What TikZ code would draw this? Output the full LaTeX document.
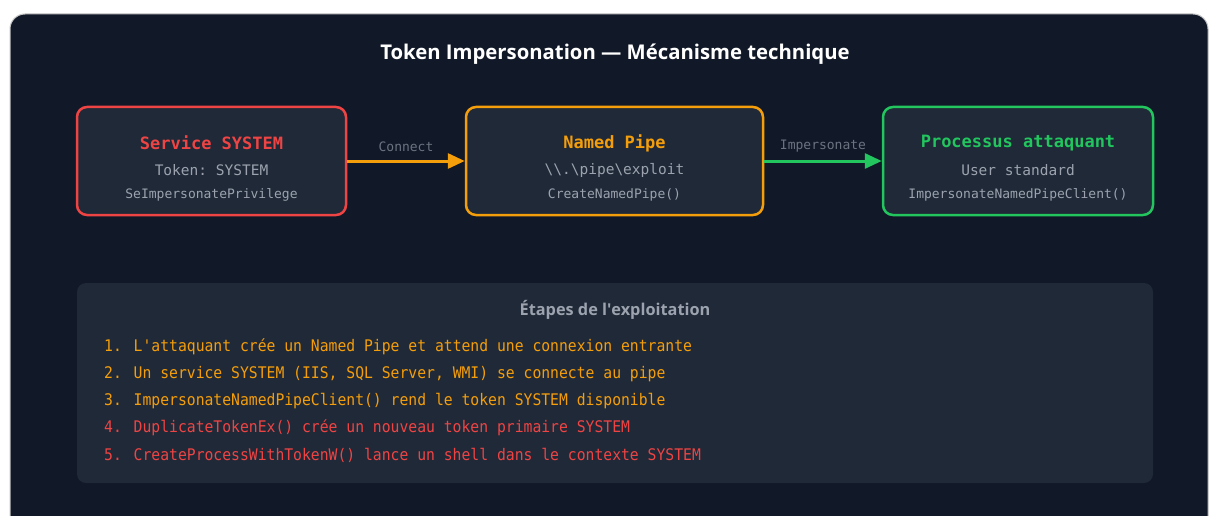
\documentclass[tikz,border=0pt]{standalone}
\usepackage{fontspec}
\setmainfont{Open Sans}
\setmonofont{DejaVu Sans Mono}
\newfontfamily\stepfont[FakeStretch=0.92]{DejaVu Sans Mono}
\usetikzlibrary{arrows.meta}
\definecolor{bgdark}{HTML}{111827}
\definecolor{cardfill}{HTML}{1F2937}
\definecolor{svcred}{HTML}{EF4444}
\definecolor{pipeorange}{HTML}{F59E0B}
\definecolor{atkgreen}{HTML}{22C55E}
\definecolor{softgrey}{HTML}{9CA3AF}
\definecolor{dimgrey}{HTML}{6B7280}

\begin{document}
\begin{tikzpicture}[x=1pt,y=-1pt,
			card/.style={draw=#1, fill=cardfill, line width=2.5pt,
				rounded corners=10pt, minimum height=108pt, inner sep=0pt},
			cardtitle/.style={text=#1, font=\ttfamily\bfseries\fontsize{17}{20}\selectfont},
			cardline/.style={text=softgrey, font=\ttfamily\fontsize{14.5}{17}\selectfont},
			cardsmall/.style={text=softgrey, font=\ttfamily\fontsize{13}{15}\selectfont},
			link/.style={draw=#1, line width=3pt, -{Triangle[length=17pt,width=15pt]}},
			linklabel/.style={text=dimgrey, font=\ttfamily\fontsize{13}{15}\selectfont},
			stepline/.style={anchor=west, text=#1, inner sep=0pt,
				font=\stepfont\fontsize{16}{18}\selectfont}]
			\useasboundingbox (0,0) rectangle (1209,516);
			\fill[white] (0,0) rectangle (1209,516);
			\draw[gray!45, fill=bgdark, line width=1pt, rounded corners=15pt] (10,14) rectangle (1208,560);
			
			\node[text=white, font=\bfseries\fontsize{20.3}{24}\selectfont] (title) at (615,54)
			{Token Impersonation — Mécanisme technique};
			
			% the three actors
			\node[card=svcred, minimum width=269pt] (svc) at (211.5,161) {};
			\node[card=pipeorange, minimum width=297pt] (pipe) at (614.5,161) {};
			\node[card=atkgreen, minimum width=270pt] (atk) at (1018,161) {};
			
			\node[cardtitle=svcred] (svct) at (211.5,143) {Service SYSTEM};
			\node[cardline] (svcl) at (211.5,170) {Token: SYSTEM};
			\node[cardsmall] (svcs) at (211.5,195) {SeImpersonatePrivilege};
			
			\node[cardtitle=pipeorange] (pipet) at (614.5,143) {Named Pipe};
			\node[cardline] (pipel) at (614.5,170) {\textbackslash\textbackslash.\textbackslash pipe\textbackslash exploit};
			\node[cardsmall] (pipes) at (614.5,195) {CreateNamedPipe()};
			
			\node[cardtitle=atkgreen] (atkt) at (1018,143) {Processus attaquant};
			\node[cardline] (atkl) at (1018,170) {User standard};
			\node[cardsmall] (atks) at (1018,195) {ImpersonateNamedPipeClient()};
			
			\draw[link=pipeorange] (svc.east) -- (pipe.west)
			node[linklabel, midway, above=4pt] (connl) {Connect};
			\draw[link=atkgreen] (pipe.east) -- (atk.west)
			node[linklabel, midway, above=4pt] (impl) {Impersonate};
			
			% steps panel
			\fill[cardfill, rounded corners=9pt] (77,283) rectangle (1153,483);
			\node[text=softgrey, font=\bfseries\fontsize{16.3}{19}\selectfont] (stepst) at (615,310)
			{Étapes de l\textquotesingle exploitation};
			\node[stepline=pipeorange] (s1) at (104,347) {1. L'attaquant crée un Named Pipe et attend une connexion entrante};
			\node[stepline=pipeorange] (s2) at (104,374) {2. Un service SYSTEM (IIS, SQL Server, WMI) se connecte au pipe};
			\node[stepline=pipeorange] (s3) at (104,401) {3. ImpersonateNamedPipeClient() rend le token SYSTEM disponible};
			\node[stepline=svcred] (s4) at (104,428) {4. DuplicateTokenEx() crée un nouveau token primaire SYSTEM};
			\node[stepline=svcred] (s5) at (104,455) {5. CreateProcessWithTokenW() lance un shell dans le contexte SYSTEM};
		\end{tikzpicture}
\end{document}
